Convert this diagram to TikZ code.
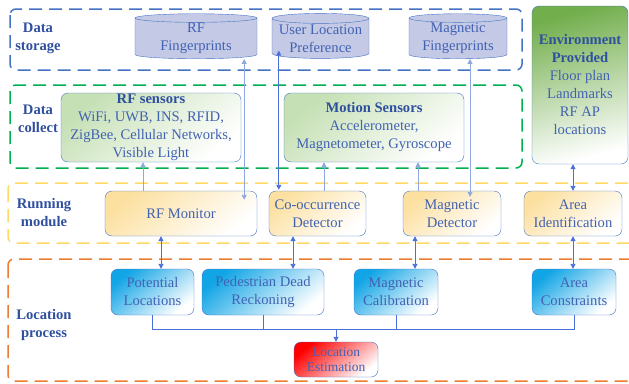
\documentclass[tikz,border=0pt]{standalone}
\usepackage{fontspec}
\setmainfont{Liberation Serif}
\usepackage{tikz}
\usetikzlibrary{arrows.meta,positioning,shapes.geometric,calc}
\definecolor{locblue}{HTML}{4472C4}
\definecolor{loctext}{HTML}{4262B2}
\definecolor{loclabel}{HTML}{2F4F9F}
\definecolor{loclav}{HTML}{C4C9E6}
\definecolor{locgreen}{HTML}{00B050}
\definecolor{locyellow}{HTML}{FFD966}
\definecolor{locorange}{HTML}{ED7D31}
\definecolor{locpale}{HTML}{C5E0B4}
\definecolor{locleaf}{HTML}{72AE4C}
\definecolor{loccream}{HTML}{FCE0A0}
\definecolor{loccyan}{HTML}{12A5E6}
\definecolor{locred}{HTML}{FF0000}
\definecolor{locarrow}{HTML}{4A6FD8}
\definecolor{locarrowlt}{HTML}{8FA8E0}

\begin{document}
\begin{tikzpicture}[x=1pt,y=1pt,every node/.style={font=\fontsize{14.6}{18}\selectfont,align=center,text=loctext}]
\tikzset{layer/.style={draw=#1,line width=1.5pt,dash pattern=on 13pt off 7pt,rounded corners=6pt},
  layername/.style={font=\fontsize{14.6}{18}\selectfont\bfseries,text=loclabel},
  store/.style={cylinder,shape border rotate=90,aspect=0.12,draw=locblue,fill=loclav,inner sep=0pt},
  box/.style={draw=locblue,rounded corners=7pt,inner sep=0pt,top color=#1,bottom color=white,shading angle=40},
  dbl/.style={{Triangle[length=5pt,width=5pt]}-{Triangle[length=5pt,width=5pt]},locarrow,line width=0.9pt},
  dbllt/.style={{Triangle[length=5pt,width=5pt]}-{Triangle[length=5pt,width=5pt]},locarrowlt,line width=0.9pt},
  uparr/.style={-{Triangle[length=5pt,width=5pt]},locarrowlt,line width=0.9pt},
  bus/.style={locarrow,line width=0.9pt}}
\useasboundingbox (0,0) rectangle (629,-383);
\draw[layer=locblue] (10,-9) rectangle (522,-70);
\draw[layer=locgreen] (10,-85) rectangle (522,-168);
\draw[layer=locyellow] (8,-183) rectangle (645,-243);
\draw[layer=locorange] (8,-259) rectangle (645,-381);
\node[layername] (lstore) at (38,-38) {Data\\storage};
\node[layername] (lcollect) at (38,-119) {Data\\collect};
\node[layername] (lrun) at (44,-213) {Running\\module};
\node[layername] (lproc) at (44,-325) {Location\\process};
\node[store,minimum width=122pt,minimum height=45pt] (rffp) at (196,-38.5) {RF\\Fingerprints};
\node[store,minimum width=97pt,minimum height=45pt] (userpref) at (320.5,-38.5) {User Location\\Preference};
\node[store,minimum width=98pt,minimum height=45pt] (magfp) at (458,-38.5) {Magnetic\\Fingerprints};
\node[box=locleaf,minimum width=96pt,minimum height=158pt,shading angle=15] (env) at (580,-85) {\textbf{\color{loclabel}Environment}\\\textbf{\color{loclabel}Provided}\\Floor plan\\Landmarks\\RF AP\\locations};
\node[box=locpale,minimum width=180pt,minimum height=69pt] (rfsens) at (151,-127.5) {\textbf{\color{loclabel}RF sensors}\\WiFi, UWB, INS, RFID,\\ZigBee, Cellular Networks,\\Visible Light};
\node[box=locpale,minimum width=180pt,minimum height=69pt] (motion) at (374,-127.5) {\textbf{\color{loclabel}Motion Sensors}\\Accelerometer,\\Magnetometer, Gyroscope};
\node[box=loccream,minimum width=152pt,minimum height=45pt] (rfmon) at (181,-213.5) {RF Monitor};
\node[box=loccream,minimum width=97pt,minimum height=45pt] (cooc) at (317.5,-213.5) {Co-occurrence\\Detector};
\node[box=loccream,minimum width=98pt,minimum height=45pt] (magdet) at (452,-213.5) {Magnetic\\Detector};
\node[box=loccream,minimum width=98pt,minimum height=45pt] (areaid) at (573,-213.5) {Area\\Identification};
\node[box=loccyan,minimum width=83pt,minimum height=46pt] (potloc) at (152.5,-292) {Potential\\Locations};
\node[box=loccyan,minimum width=122pt,minimum height=46pt] (pdr) at (263,-292) {Pedestrian Dead\\Reckoning};
\node[box=loccyan,minimum width=84pt,minimum height=46pt] (magcal) at (396,-292) {Magnetic\\Calibration};
\node[box=loccyan,minimum width=84pt,minimum height=46pt] (areacon) at (574,-292) {Area\\Constraints};
\node[box=locred,minimum width=84pt,minimum height=35pt,font=\fontsize{13.5}{15}\selectfont] (locest) at (336,-359.5) {Location\\Estimation};
\draw[uparr] ([xshift=-38pt]rfmon.north) -- ([xshift=-38pt]rfmon.north |- rfsens.south);
\draw[dbllt] ([xshift=-13pt]rfmon.north east |- rffp.south) -- ([xshift=-13pt,yshift=-9pt]rfmon.north east);
\draw[dbl] ([xshift=10pt,yshift=8pt]cooc.north west |- userpref.south) -- ([xshift=10pt,yshift=1pt]cooc.north west);
\draw[uparr] ([xshift=6.5pt]cooc.north) -- ([xshift=6.5pt]cooc.north |- motion.south);
\draw[uparr] ([xshift=-34pt]magdet.north) -- ([xshift=-34pt]magdet.north |- motion.south);
\draw[dbllt] ([xshift=18pt]magdet.north |- magfp.south) -- ([xshift=18pt,yshift=-6pt]magdet.north);
\draw[dbl] (areaid.north |- env.south) -- (areaid.north);
\draw[dbl] ([xshift=-20pt]rfmon.south) -- ([xshift=-20pt]rfmon.south |- potloc.north);
\draw[dbl] ([xshift=-24.5pt]cooc.south) -- ([xshift=-24.5pt]cooc.south |- pdr.north);
\draw[dbl] ([xshift=-37pt]magdet.south) -- ([xshift=-37pt]magdet.south |- magcal.north);
\draw[dbl] (areaid.south) -- (areaid.south |- areacon.north);
\coordinate (junction) at ($(potloc.south)+(0,-14)$);
\draw[bus] (potloc.south) -- (junction) -| (areacon.south);
\draw[bus] (pdr.south) -- (pdr.south |- junction);
\draw[bus] (magcal.south) -- (magcal.south |- junction);
\draw[bus,-{Triangle[length=5pt,width=5pt]}] (locest.north |- junction) -- (locest.north);
\end{tikzpicture}
\end{document}
